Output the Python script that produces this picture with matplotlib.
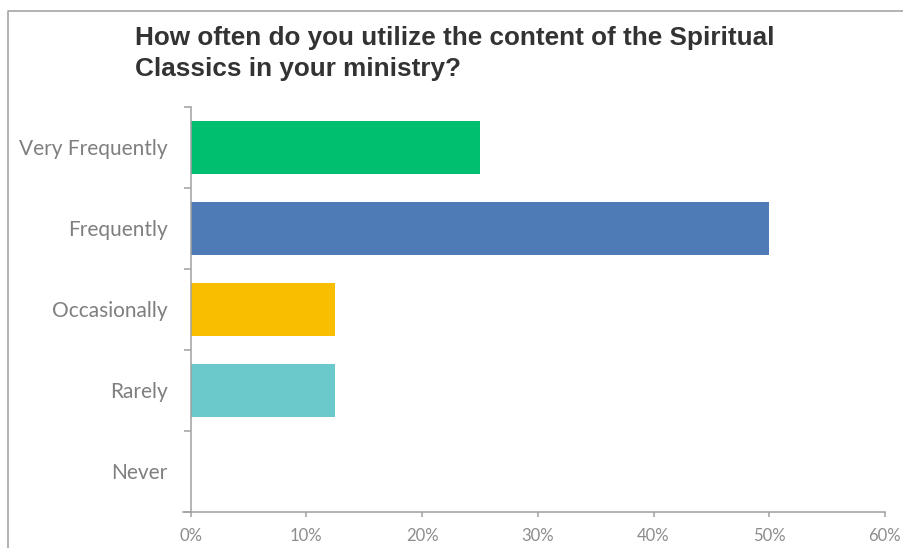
import matplotlib
matplotlib.use('Agg')
import matplotlib.pyplot as plt
from matplotlib.lines import Line2D
from matplotlib.ticker import PercentFormatter, FixedLocator

# Survey responses (share of respondents)
categories = ['Very Frequently', 'Frequently', 'Occasionally', 'Rarely', 'Never']
shares = [0.25, 0.50, 0.125, 0.125, 0.0]
colors = ['#00BF6F', '#4E7AB5', '#F9BE00', '#6BC9CB', '#A5A5A5']
x_ticks = [0, 0.1, 0.2, 0.3, 0.4, 0.5, 0.6]
title_lines = ['How often do you utilize the content of the Spiritual',
               'Classics in your ministry?']

W, H = 904, 548
fig = plt.figure(figsize=(W / 100, H / 100), dpi=100)

# outer chart frame (only top and left edges fall inside the image)
fig.add_artist(Line2D([8 / W, 8 / W, 1.0], [0.0, 1 - 11 / H, 1 - 11 / H],
                      transform=fig.transFigure, color='#A6A6A6', lw=1.2))

ax = fig.add_axes([190.7 / W, 1 - 511.7 / H, (884.9 - 190.7) / W, (511.7 - 107) / H])

pos = range(len(categories))
ax.barh(pos, shares, height=0.66, color=colors)
ax.set_ylim(len(categories) - 0.5, -0.5)
ax.set_xlim(0, 0.6)

ax.set_yticks(list(pos))
ax.set_yticklabels(categories)
ax.yaxis.set_minor_locator(FixedLocator([i - 0.5 for i in range(len(categories) + 1)]))
ax.tick_params(axis='y', which='major', length=0, pad=16.5,
               labelsize=15, labelcolor='#7F7F7F')
ax.tick_params(axis='y', which='minor', length=5, width=1.1, color='#A0A0A0')

ax.xaxis.set_major_locator(FixedLocator(x_ticks))
ax.xaxis.set_major_formatter(PercentFormatter(1.0, decimals=0))
ax.tick_params(axis='x', length=3.6, width=1.1, color='#A0A0A0', pad=8,
               labelsize=12, labelcolor='#8C8C8C')

for lab in ax.get_xticklabels() + ax.get_yticklabels():
    lab.set_fontfamily('Lato')

for s in ['top', 'right']:
    ax.spines[s].set_visible(False)
for s in ['left', 'bottom']:
    ax.spines[s].set_color('#A0A0A0')
    ax.spines[s].set_linewidth(1.1)
# category axis line runs a little past the value axis, under the minor ticks
ax.spines['bottom'].set_bounds(-0.0065, 0.6)

for i, line in enumerate(title_lines):
    fig.text(135 / W, 1 - (45 + 31 * i) / H, line,
             ha='left', va='baseline', fontsize=18.8, fontweight='bold',
             family='Liberation Sans', color='#333333')

fig.savefig('out.png', dpi=100)
